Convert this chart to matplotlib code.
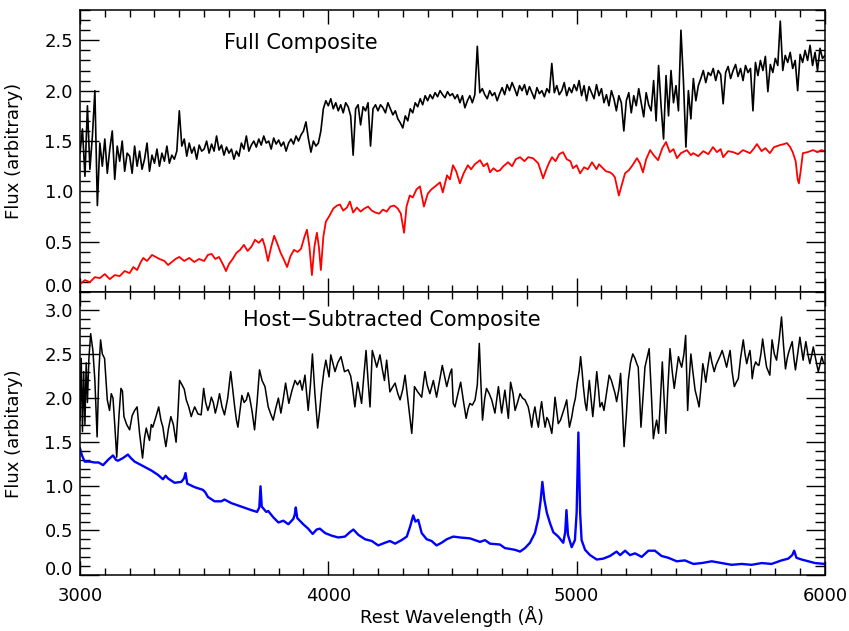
import numpy as np
import matplotlib
matplotlib.use("Agg")
import matplotlib.pyplot as plt
from matplotlib.ticker import MultipleLocator, FixedLocator, FormatStrFormatter

plt.rcParams["font.family"] = ["DejaVu Sans"]
plt.rcParams["axes.linewidth"] = 1.1

# ---- Full composite (black, top), sampled every 10 A from 3000 to 6000 ----
full_wave = np.arange(3000, 6001, 10)
full_flux = [
    1.38, 1.62, 1.15, 1.85, 1.22, 1.55, 2.00, 0.86, 1.48, 1.25,
    1.52, 1.18, 1.42, 1.60, 1.12, 1.45, 1.30, 1.50, 1.20, 1.38,
    1.35, 1.18, 1.45, 1.25, 1.40, 1.22, 1.32, 1.48, 1.20, 1.36,
    1.28, 1.42, 1.25, 1.38, 1.30, 1.45, 1.28, 1.36, 1.32, 1.40,
    1.80, 1.45, 1.52, 1.35, 1.48, 1.38, 1.44, 1.32, 1.46, 1.40,
    1.42, 1.50, 1.38, 1.47, 1.40, 1.55, 1.41, 1.46, 1.36, 1.44,
    1.38, 1.42, 1.32, 1.40, 1.35, 1.48, 1.42, 1.55, 1.40, 1.46,
    1.50, 1.44, 1.52, 1.46, 1.55, 1.48, 1.50, 1.42, 1.53, 1.47,
    1.51, 1.45, 1.49, 1.40, 1.48, 1.52, 1.47, 1.55, 1.50, 1.56,
    1.60, 1.69, 1.52, 1.39, 1.50, 1.45, 1.48, 1.60, 1.82, 1.90,
    1.85, 1.92, 1.82, 1.88, 1.80, 1.86, 1.78, 1.88, 1.84, 1.75,
    1.36, 1.82, 1.86, 1.66, 1.84, 1.80, 1.88, 1.45, 1.82, 1.86,
    1.80, 1.86, 1.83, 1.78, 1.88, 1.82, 1.76, 1.80, 1.72, 1.68,
    1.63, 1.75, 1.70, 1.82, 1.78, 1.88, 1.84, 1.92, 1.86, 1.95,
    1.90, 1.96, 1.92, 1.98, 1.94, 2.00, 1.96, 1.93, 1.99, 1.95,
    1.97, 1.92, 1.96, 1.88, 1.95, 1.83, 1.90, 1.95, 1.88, 1.96,
    2.44, 1.98, 2.02, 1.96, 1.92, 2.00, 1.95, 1.98, 1.90, 1.97,
    2.03, 1.96, 2.06, 2.00, 2.08, 2.02, 1.95, 2.05, 2.00, 2.06,
    1.96, 2.04, 1.98, 1.92, 2.03, 1.97, 2.00, 1.94, 2.02, 1.98,
    2.27, 1.98, 2.05, 1.96, 2.00, 2.08, 1.95, 2.03, 1.98, 2.06,
    2.00, 2.10, 1.95, 2.05, 1.90, 2.04, 1.98, 1.92, 2.06, 1.95,
    2.02, 1.88, 1.96, 1.85, 2.00, 1.92, 1.80, 1.95, 1.88, 1.60,
    1.90, 1.98, 1.78, 1.95, 1.85, 2.02, 1.88, 1.74, 1.98, 1.86,
    1.80, 2.10, 1.70, 2.25, 1.85, 1.52, 2.15, 1.75, 2.20, 1.88,
    2.05, 1.80, 2.60, 2.10, 1.44, 2.00, 1.72, 2.12, 1.90, 2.05,
    2.12, 2.20, 2.08, 2.18, 2.15, 2.22, 2.10, 2.20, 2.16, 1.87,
    2.18, 2.24, 2.12, 2.20, 2.26, 2.14, 2.22, 2.10, 2.25, 2.18,
    2.22, 1.80, 2.28, 2.15, 2.30, 2.20, 2.34, 1.99, 2.26, 2.18,
    2.32, 2.25, 2.69, 2.20, 2.35, 2.28, 2.38, 2.22, 2.30, 2.00,
    2.36, 2.28, 2.40, 2.30, 2.45, 2.25, 2.38, 2.20, 2.42, 2.32,
    2.35,
]

# ---- Host galaxy template (red, top) ----
host_pts = [
    (3000, 0.08), (3020, 0.12), (3040, 0.10), (3060, 0.15), (3080, 0.14),
    (3100, 0.18), (3120, 0.13), (3140, 0.17), (3160, 0.16), (3180, 0.21),
    (3200, 0.19), (3215, 0.25), (3230, 0.22), (3245, 0.30), (3255, 0.34),
    (3270, 0.31), (3290, 0.37), (3305, 0.35), (3320, 0.33), (3340, 0.31),
    (3355, 0.27), (3370, 0.30), (3385, 0.33), (3400, 0.35), (3420, 0.31),
    (3440, 0.34), (3460, 0.30), (3480, 0.33), (3500, 0.31), (3515, 0.37),
    (3530, 0.38), (3545, 0.33), (3560, 0.35), (3575, 0.28), (3588, 0.21),
    (3600, 0.28), (3615, 0.33), (3630, 0.39), (3645, 0.42), (3660, 0.47),
    (3675, 0.41), (3690, 0.45), (3705, 0.52), (3720, 0.49), (3735, 0.53),
    (3745, 0.45), (3757, 0.31), (3770, 0.45), (3782, 0.56), (3795, 0.48),
    (3808, 0.39), (3820, 0.33), (3834, 0.25), (3848, 0.36), (3862, 0.42),
    (3876, 0.40), (3890, 0.43), (3904, 0.55), (3914, 0.62), (3924, 0.45),
    (3934, 0.17), (3944, 0.45), (3954, 0.59), (3962, 0.45), (3970, 0.22),
    (3980, 0.55), (3990, 0.70), (4005, 0.76), (4020, 0.83), (4035, 0.86),
    (4047, 0.87), (4060, 0.81), (4075, 0.84), (4087, 0.90), (4100, 0.79),
    (4115, 0.84), (4130, 0.80), (4145, 0.83), (4160, 0.85), (4175, 0.81),
    (4190, 0.79), (4205, 0.78), (4220, 0.82), (4235, 0.80), (4250, 0.85),
    (4265, 0.86), (4280, 0.83), (4292, 0.78), (4305, 0.59), (4315, 0.85),
    (4328, 0.96), (4340, 0.94), (4355, 1.02), (4369, 1.05), (4385, 0.85),
    (4401, 0.98), (4415, 1.02), (4430, 1.05), (4450, 1.09), (4461, 0.99),
    (4478, 1.16), (4490, 1.12), (4502, 1.26), (4515, 1.20), (4530, 1.08),
    (4545, 1.18), (4562, 1.26), (4575, 1.22), (4590, 1.27), (4611, 1.31),
    (4625, 1.25), (4640, 1.28), (4651, 1.19), (4665, 1.23), (4680, 1.20),
    (4691, 1.21), (4705, 1.25), (4724, 1.29), (4740, 1.25), (4755, 1.32),
    (4772, 1.34), (4790, 1.30), (4805, 1.34), (4824, 1.33), (4845, 1.28),
    (4856, 1.20), (4865, 1.13), (4878, 1.22), (4890, 1.29), (4901, 1.34),
    (4915, 1.30), (4930, 1.37), (4945, 1.39), (4960, 1.32), (4975, 1.30),
    (4985, 1.23), (5000, 1.26), (5014, 1.18), (5030, 1.24), (5045, 1.22),
    (5062, 1.29), (5080, 1.22), (5090, 1.27), (5102, 1.24), (5118, 1.20),
    (5134, 1.19), (5145, 1.17), (5154, 1.14), (5162, 1.05), (5170, 0.96),
    (5180, 1.05), (5195, 1.18), (5210, 1.21), (5225, 1.26), (5243, 1.33),
    (5255, 1.28), (5267, 1.19), (5280, 1.32), (5296, 1.41), (5310, 1.36),
    (5328, 1.31), (5345, 1.43), (5360, 1.49), (5375, 1.39), (5390, 1.42),
    (5404, 1.33), (5420, 1.38), (5444, 1.41), (5460, 1.36), (5469, 1.38),
    (5490, 1.35), (5510, 1.40), (5530, 1.37), (5549, 1.44), (5565, 1.39),
    (5580, 1.42), (5590, 1.34), (5610, 1.40), (5630, 1.39), (5650, 1.37),
    (5670, 1.41), (5698, 1.38), (5712, 1.42), (5726, 1.47), (5745, 1.40),
    (5760, 1.43), (5778, 1.38), (5795, 1.44), (5819, 1.46), (5835, 1.47),
    (5847, 1.48), (5860, 1.44), (5870, 1.39), (5882, 1.30), (5890, 1.12),
    (5895, 1.08), (5902, 1.20), (5911, 1.38), (5930, 1.39), (5952, 1.41),
    (5970, 1.39), (5985, 1.41), (6000, 1.40),
]

# ---- Host-subtracted composite (black, bottom) ----
sub_pts = [
    (3000, 1.75), (3005, 2.45), (3010, 1.62), (3015, 2.30), (3020, 1.70),
    (3025, 2.40), (3030, 1.95), (3036, 2.45), (3043, 2.73), (3052, 2.54),
    (3060, 2.20), (3069, 1.56), (3076, 2.30), (3083, 2.66), (3090, 2.50),
    (3099, 2.45), (3110, 1.98), (3119, 1.86), (3126, 2.05), (3133, 2.00),
    (3140, 1.70), (3148, 1.33), (3157, 1.80), (3165, 2.11), (3171, 2.08),
    (3177, 1.79), (3188, 1.70), (3200, 1.64), (3210, 1.80), (3220, 1.86),
    (3230, 1.90), (3240, 1.60), (3252, 1.32), (3260, 1.55), (3267, 1.66),
    (3274, 1.58), (3280, 1.52), (3287, 1.70), (3293, 1.67), (3305, 1.78),
    (3317, 1.90), (3326, 1.75), (3334, 1.67), (3340, 1.55), (3346, 1.45),
    (3356, 1.65), (3366, 1.79), (3376, 1.70), (3387, 1.50), (3394, 1.80),
    (3401, 2.20), (3411, 2.15), (3420, 2.10), (3428, 1.98), (3438, 1.90),
    (3448, 1.79), (3455, 1.85), (3462, 1.90), (3475, 1.82), (3488, 1.81),
    (3498, 2.11), (3506, 1.95), (3515, 1.86), (3522, 1.92), (3529, 2.01),
    (3537, 1.95), (3545, 1.83), (3553, 1.92), (3562, 2.05), (3572, 1.90),
    (3582, 1.81), (3595, 2.00), (3607, 2.30), (3615, 2.10), (3623, 1.90),
    (3630, 1.75), (3636, 1.67), (3644, 1.85), (3652, 2.03), (3661, 1.95),
    (3670, 1.98), (3677, 2.06), (3683, 2.01), (3693, 1.85), (3703, 1.64),
    (3713, 1.95), (3723, 2.32), (3733, 2.20), (3745, 2.13), (3758, 1.90),
    (3768, 1.82), (3778, 1.75), (3788, 1.88), (3799, 2.00), (3809, 1.83),
    (3818, 1.98), (3828, 2.17), (3835, 2.05), (3841, 1.94), (3853, 2.08),
    (3866, 2.20), (3876, 2.15), (3886, 2.20), (3895, 2.09), (3906, 2.26),
    (3919, 1.86), (3928, 2.15), (3936, 2.50), (3946, 2.05), (3957, 1.66),
    (3965, 1.85), (3973, 2.09), (3982, 2.30), (3990, 2.43), (4003, 2.24),
    (4010, 2.49), (4018, 2.40), (4027, 2.30), (4038, 2.40), (4051, 2.47),
    (4065, 2.30), (4080, 2.32), (4090, 2.25), (4097, 2.13), (4107, 1.90),
    (4118, 2.18), (4127, 2.05), (4134, 1.94), (4143, 2.25), (4152, 2.54),
    (4160, 2.20), (4168, 1.90), (4177, 2.54), (4186, 2.45), (4195, 2.35),
    (4208, 2.49), (4218, 2.32), (4226, 2.20), (4235, 2.43), (4248, 2.07),
    (4258, 2.12), (4269, 2.17), (4280, 2.05), (4289, 1.98), (4300, 2.10),
    (4309, 2.26), (4322, 1.94), (4330, 1.75), (4336, 1.60), (4342, 1.85),
    (4347, 2.13), (4360, 2.07), (4376, 2.01), (4389, 2.30), (4398, 2.15),
    (4409, 2.05), (4423, 2.20), (4436, 2.01), (4448, 2.20), (4459, 2.37),
    (4468, 2.25), (4477, 2.13), (4490, 2.28), (4497, 2.33), (4503, 1.94),
    (4510, 1.90), (4522, 2.05), (4533, 2.18), (4545, 1.95), (4555, 1.77),
    (4563, 1.88), (4570, 1.94), (4580, 1.92), (4591, 1.98), (4600, 2.15),
    (4608, 2.62), (4614, 2.20), (4621, 1.75), (4630, 2.00), (4637, 2.11),
    (4648, 2.05), (4658, 1.98), (4671, 1.83), (4685, 2.13), (4698, 1.83),
    (4711, 2.09), (4725, 1.77), (4734, 2.18), (4744, 2.05), (4752, 1.86),
    (4762, 1.95), (4772, 2.05), (4782, 2.00), (4792, 1.98), (4805, 1.90),
    (4812, 1.80), (4819, 1.67), (4826, 1.82), (4832, 1.90), (4840, 1.75),
    (4846, 1.67), (4853, 1.85), (4859, 1.96), (4866, 1.80), (4873, 1.67),
    (4880, 1.78), (4886, 1.75), (4893, 1.68), (4900, 1.60), (4907, 1.80),
    (4913, 2.01), (4920, 1.85), (4926, 1.71), (4935, 1.75), (4944, 1.83),
    (4952, 1.90), (4960, 1.98), (4966, 1.80), (4971, 1.67), (4980, 1.78),
    (4987, 1.90), (4995, 2.00), (5003, 2.18), (5010, 2.30), (5016, 2.47),
    (5022, 2.30), (5027, 2.13), (5034, 1.95), (5040, 1.86), (5046, 2.05),
    (5051, 2.20), (5058, 2.00), (5065, 1.79), (5072, 2.00), (5081, 2.30),
    (5088, 2.10), (5094, 1.90), (5102, 1.95), (5110, 1.86), (5120, 2.05),
    (5131, 2.26), (5140, 2.20), (5147, 2.13), (5155, 2.05), (5161, 1.96),
    (5170, 2.10), (5177, 2.28), (5184, 1.90), (5191, 1.45), (5200, 1.80),
    (5208, 2.20), (5217, 2.40), (5226, 2.50), (5235, 2.45), (5242, 2.39),
    (5248, 2.35), (5254, 2.00), (5259, 1.67), (5267, 2.00), (5275, 2.35),
    (5283, 2.45), (5292, 2.56), (5300, 2.10), (5309, 1.54), (5315, 1.65),
    (5322, 1.75), (5330, 1.60), (5336, 1.90), (5345, 2.41), (5352, 2.00),
    (5359, 1.60), (5367, 2.10), (5376, 2.56), (5385, 2.30), (5393, 2.11),
    (5402, 2.30), (5410, 2.47), (5417, 2.40), (5423, 2.35), (5432, 2.50),
    (5439, 2.71), (5447, 1.86), (5453, 2.20), (5460, 2.50), (5468, 2.30),
    (5477, 2.09), (5485, 2.00), (5493, 1.90), (5500, 2.10), (5508, 2.39),
    (5514, 2.30), (5520, 2.18), (5528, 2.35), (5537, 2.52), (5545, 2.40),
    (5554, 2.30), (5562, 2.38), (5570, 2.43), (5578, 2.48), (5586, 2.54),
    (5595, 2.45), (5604, 2.35), (5611, 2.45), (5618, 2.54), (5626, 2.30),
    (5635, 2.13), (5643, 2.18), (5651, 2.22), (5660, 2.45), (5671, 2.66),
    (5678, 2.50), (5685, 2.39), (5692, 2.48), (5698, 2.54), (5703, 2.40),
    (5707, 2.22), (5714, 2.35), (5721, 2.41), (5728, 2.38), (5734, 2.37),
    (5742, 2.50), (5749, 2.67), (5757, 2.50), (5765, 2.35), (5772, 2.30),
    (5778, 2.26), (5782, 2.45), (5787, 2.66), (5796, 2.50), (5805, 2.43),
    (5815, 2.65), (5825, 2.92), (5833, 2.60), (5841, 2.33), (5848, 2.45),
    (5854, 2.52), (5861, 2.58), (5868, 2.64), (5875, 2.45), (5881, 2.32),
    (5890, 2.50), (5899, 2.69), (5906, 2.55), (5912, 2.43), (5918, 2.55),
    (5923, 2.64), (5931, 2.50), (5939, 2.39), (5946, 2.48), (5953, 2.58),
    (5962, 2.45), (5973, 2.30), (5980, 2.38), (5987, 2.47), (5994, 2.40),
    (6000, 2.39),
]

# ---- AGN composite (blue, bottom) ----
agn_pts = [
    (3000, 1.43), (3008, 1.35), (3019, 1.28), (3040, 1.28), (3059, 1.27),
    (3075, 1.27), (3093, 1.24), (3113, 1.30), (3133, 1.35), (3145, 1.30),
    (3153, 1.29), (3173, 1.32), (3193, 1.36), (3205, 1.32), (3220, 1.28),
    (3240, 1.25), (3260, 1.22), (3287, 1.18), (3314, 1.13), (3334, 1.08),
    (3345, 1.12), (3354, 1.09), (3381, 1.04), (3408, 1.05), (3419, 1.09),
    (3425, 1.15), (3432, 1.03), (3462, 0.99), (3495, 0.96), (3505, 0.93),
    (3515, 0.88), (3542, 0.83), (3569, 0.83), (3582, 0.85), (3609, 0.81),
    (3650, 0.77), (3690, 0.73), (3713, 0.71), (3722, 0.76), (3727, 1.00),
    (3732, 0.77), (3750, 0.71), (3758, 0.72), (3778, 0.65), (3799, 0.59),
    (3819, 0.61), (3839, 0.57), (3859, 0.63), (3865, 0.68), (3869, 0.76),
    (3875, 0.64), (3899, 0.57), (3919, 0.52), (3937, 0.46), (3953, 0.51),
    (3966, 0.52), (3987, 0.47), (4014, 0.44), (4040, 0.42), (4067, 0.43),
    (4087, 0.48), (4101, 0.51), (4121, 0.45), (4148, 0.40), (4175, 0.38),
    (4201, 0.33), (4228, 0.36), (4248, 0.38), (4269, 0.35), (4295, 0.39),
    (4316, 0.43), (4329, 0.54), (4342, 0.67), (4351, 0.60), (4362, 0.62),
    (4376, 0.47), (4396, 0.40), (4416, 0.38), (4436, 0.33), (4456, 0.36),
    (4477, 0.40), (4503, 0.43), (4530, 0.42), (4570, 0.41), (4611, 0.37),
    (4631, 0.39), (4651, 0.35), (4691, 0.34), (4711, 0.30), (4752, 0.28),
    (4772, 0.26), (4792, 0.30), (4812, 0.36), (4832, 0.47), (4846, 0.64),
    (4855, 0.84), (4862, 1.05), (4870, 0.85), (4880, 0.70), (4893, 0.58),
    (4906, 0.48), (4926, 0.43), (4946, 0.36), (4954, 0.48), (4959, 0.73),
    (4965, 0.45), (4980, 0.31), (4993, 0.39), (5000, 0.70), (5004, 1.20),
    (5007, 1.61), (5010, 1.20), (5014, 0.70), (5020, 0.39), (5034, 0.28),
    (5054, 0.22), (5081, 0.17), (5107, 0.18), (5134, 0.21), (5161, 0.26),
    (5175, 0.22), (5195, 0.27), (5215, 0.22), (5235, 0.24), (5262, 0.20),
    (5289, 0.27), (5315, 0.27), (5342, 0.21), (5369, 0.19), (5403, 0.15),
    (5436, 0.16), (5470, 0.12), (5504, 0.13), (5544, 0.15), (5584, 0.13),
    (5624, 0.11), (5664, 0.12), (5705, 0.11), (5745, 0.13), (5785, 0.12),
    (5825, 0.16), (5852, 0.18), (5868, 0.22), (5876, 0.27), (5885, 0.19),
    (5906, 0.17), (5933, 0.15), (5960, 0.13), (6000, 0.12),
]

top_yticks = [0.0, 0.5, 1.0, 1.5, 2.0, 2.5]
bottom_yticks = [0.0, 0.5, 1.0, 1.5, 2.0, 2.5, 3.0]

host_wave, host_flux = np.array(host_pts).T
sub_wave, sub_flux = np.array(sub_pts).T
agn_wave, agn_flux = np.array(agn_pts).T

fig = plt.figure(figsize=(8.49, 6.31), dpi=100)
ax1 = fig.add_axes([0.0942, 0.5369, 0.8775, 0.4472])
ax2 = fig.add_axes([0.0942, 0.0895, 0.8775, 0.4474])

ax1.plot(full_wave, full_flux, color="black", lw=1.2)
ax1.plot(host_wave, host_flux, color="red", lw=1.3)
ax2.plot(sub_wave, sub_flux, color="black", lw=1.1)
ax2.plot(agn_wave, agn_flux, color="blue", lw=1.7)

ax1.set_ylim(0, 2.8)
ax2.set_ylim(0, 3.2)
ax1.yaxis.set_major_locator(FixedLocator(top_yticks))
ax2.yaxis.set_major_locator(FixedLocator(bottom_yticks))

for ax in (ax1, ax2):
    ax.set_xlim(3000, 6000)
    ax.xaxis.set_major_locator(MultipleLocator(1000))
    ax.xaxis.set_minor_locator(MultipleLocator(100))
    ax.yaxis.set_minor_locator(MultipleLocator(0.1))
    ax.yaxis.set_major_formatter(FormatStrFormatter("%.1f"))
    ax.tick_params(which="both", direction="in", top=True, right=True,
                   labelsize=13, width=1.0)
    ax.tick_params(axis="x", which="major", length=10, pad=9)
    ax.tick_params(axis="x", which="minor", length=5)
    ax.tick_params(axis="y", which="major", length=14, pad=5)
    ax.tick_params(axis="y", which="minor", length=7)
    ax.yaxis.set_label_coords(-0.077, 0.5)
    # lift the 0.0 label so it sits just above the bottom edge
    ax.yaxis.get_major_ticks()[0].label1.set_verticalalignment("baseline")

ax1.tick_params(labelbottom=False)

ax1.set_ylabel("Flux (arbitrary)", fontsize=13)
ax2.set_ylabel("Flux (arbitary)", fontsize=13)
ax2.set_xlabel("Rest Wavelength (Å)", fontsize=13, labelpad=1)

ax1.text(0.193, 0.884, "Full Composite", transform=ax1.transAxes,
         fontsize=15, va="center", ha="left")
ax2.text(0.219, 0.9015, "Host\u2212Subtracted Composite", transform=ax2.transAxes,
         fontsize=15, va="center", ha="left")

fig.savefig("out.png", dpi=100)
